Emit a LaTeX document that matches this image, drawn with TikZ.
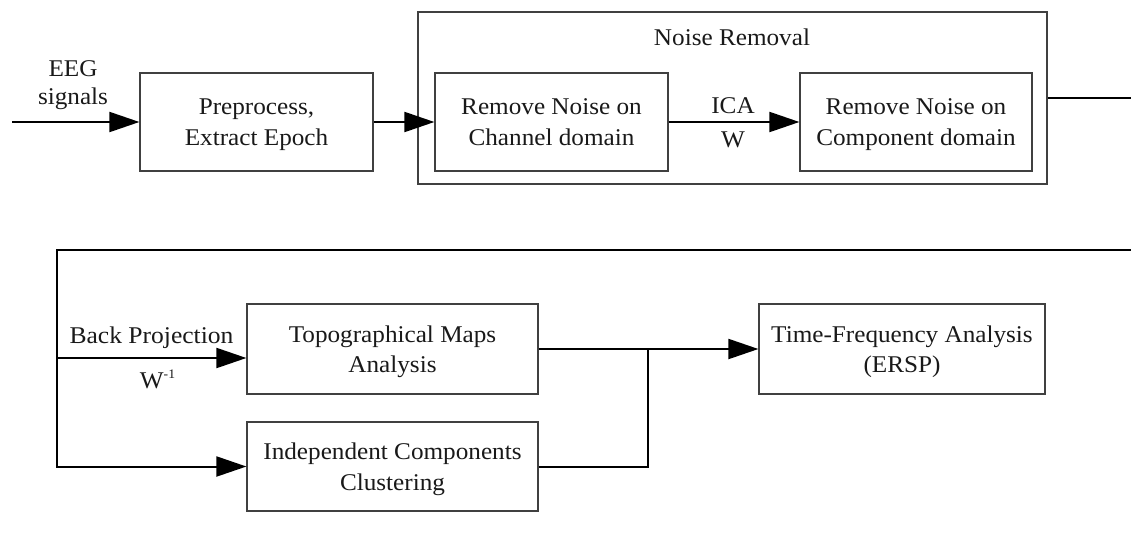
\documentclass[tikz,border=0pt]{standalone}
\usepackage{fontspec}
\setmainfont{Liberation Serif}
\newfontfamily\tfont{Liberation Serif}[FakeStretch=1.05]
\newfontfamily\bpfont{Liberation Serif}[FakeStretch=1.065]
\usetikzlibrary{arrows.meta}
\begin{document}
\begin{tikzpicture}[x=1pt,y=-1pt,
  box/.style={draw=black!75, line width=1.2pt, inner sep=0pt, align=center,
    text depth=0pt, text=black!90, font=\fontsize{24}{30.5}\tfont},
  lbl/.style={inner sep=0pt, anchor=base, text=black!90, font=\fontsize{24}{28}\tfont},
  conn/.style={line width=2pt, black},
  arr/.style={conn, -{Triangle[length=30pt,width=20pt]}}]
\useasboundingbox (0,0) rectangle (1131,549);

% outer group
\node[box, minimum width=629pt, minimum height=172pt] (nr) at (732.5,98) {};
\node[lbl] (nrl) at (732,45) {Noise Removal};

% boxes
\node[box, minimum width=233pt, minimum height=98pt] (pre) at (256.5,122) {Preprocess,\\Extract Epoch};
\node[box, minimum width=233pt, minimum height=98pt] (ch) at (551.5,122) {Remove Noise on\\Channel domain};
\node[box, minimum width=232pt, minimum height=98pt] (comp) at (916,122) {Remove Noise on\\Component domain};
\node[box, minimum width=291pt, minimum height=90pt] (topo) at (392.5,349) {Topographical Maps\\Analysis};
\node[box, minimum width=291pt, minimum height=89pt] (icc) at (392.5,466.5) {Independent Components\\Clustering};
\node[box, minimum width=286pt, minimum height=90pt] (tfa) at (902,349) {Time-Frequency Analysis\\(ERSP)};

% labels
\node[lbl] (eeg1) at (73,76) {EEG};
\node[lbl] (eeg2) at (73,104) {signals};
\node[lbl] (ica) at (733,113) {ICA};
\node[lbl] (w) at (733,147) {W};
\node[lbl, font=\fontsize{24}{28}\bpfont] (bp) at (151.5,343) {Back Projection};
\node[lbl] (winv) at (157.5,388) {W\raisebox{0.4em}{\fontsize{13}{13}\selectfont -1}};

% coordinates
\coordinate (in) at (12,122);
\coordinate (out1) at (1131,98);
\coordinate (in2) at (1131,250);
\coordinate (c1) at (57,250);
\coordinate (c2) at (57,466.5);
\coordinate (bpj) at (57,358);
\coordinate (j1) at (648,349);
\coordinate (j2) at (648,466.5);

% connectors
\draw[arr] (in) -- (pre.west);
\draw[arr] (pre.east) -- (ch.west);
\draw[arr] (ch.east) -- (comp.west);
\draw[conn] (nr.east) -- (out1);
\draw[arr] (in2) -- (c1) -- (c2) -- (icc.west);
\draw[arr] (bpj) -- (bpj -| topo.west);
\draw[arr] (topo.east) -- (j1) -- (tfa.west);
\draw[conn] (icc.east) -- (j2) -- (j1);
\end{tikzpicture}
\end{document}
